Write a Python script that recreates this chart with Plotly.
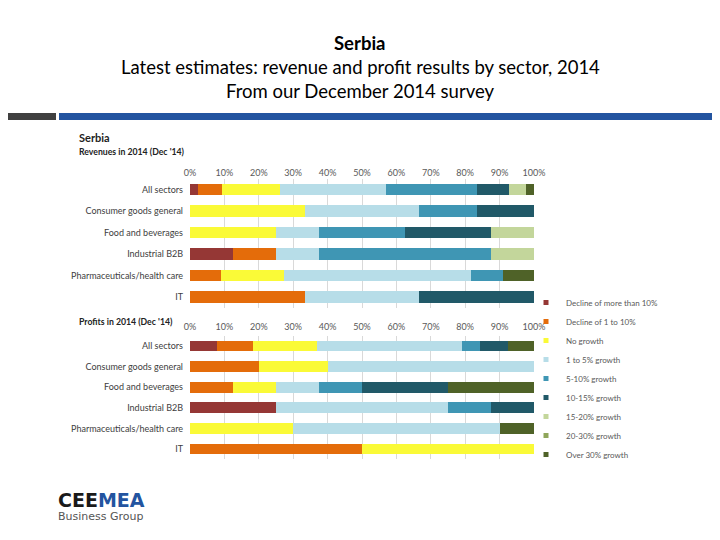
import plotly.graph_objects as go

# categories and data (% of respondents)
sectors = ["All sectors", "Consumer goods general", "Food and beverages",
           "Industrial B2B", "Pharmaceuticals/health care", "IT"]
growth_cats = ["Decline of more than 10%", "Decline of 1 to 10%", "No growth",
               "1 to 5% growth", "5-10% growth", "10-15% growth",
               "15-20% growth", "20-30% growth", "Over 30% growth"]
colors = ["#953735", "#E46C0A", "#FAFA37", "#B7DDE8", "#3F96B4",
          "#215968", "#C3D69B", "#8FA65A", "#4F6228"]

# revenue shares per growth category, one list per category (by sector)
rev_decl10 = [2.3, 0, 0, 12.5, 0, 0]
rev_decl1 = [7.0, 0, 0, 12.5, 9.1, 33.3]
rev_nogrow = [17.0, 33.3, 25.0, 0, 18.2, 0]
rev_1to5 = [30.8, 33.4, 12.5, 12.5, 54.5, 33.4]
rev_5to10 = [26.2, 16.6, 25.0, 50.0, 9.1, 0]
rev_10to15 = [9.4, 16.7, 25.0, 0, 0, 33.3]
rev_15to20 = [4.9, 0, 12.5, 12.5, 0, 0]
rev_20to30 = [0, 0, 0, 0, 0, 0]
rev_over30 = [2.4, 0, 0, 0, 9.1, 0]

prof_decl10 = [7.8, 0, 0, 25.0, 0, 0]
prof_decl1 = [10.5, 20.0, 12.5, 0, 0, 50.0]
prof_nogrow = [18.6, 20.0, 12.5, 0, 30.0, 50.0]
prof_1to5 = [42.2, 60.0, 12.5, 50.0, 60.0, 0]
prof_5to10 = [5.2, 0, 12.5, 12.5, 0, 0]
prof_10to15 = [8.0, 0, 25.0, 12.5, 0, 0]
prof_15to20 = [0, 0, 0, 0, 0, 0]
prof_20to30 = [0, 0, 0, 0, 0, 0]
prof_over30 = [7.7, 0, 25.0, 0, 10.0, 0]

revenue = [rev_decl10, rev_decl1, rev_nogrow, rev_1to5, rev_5to10,
           rev_10to15, rev_15to20, rev_20to30, rev_over30]
profit = [prof_decl10, prof_decl1, prof_nogrow, prof_1to5, prof_5to10,
          prof_10to15, prof_15to20, prof_20to30, prof_over30]

W, H = 720, 540
OFF = 8  # page body margin
FONT = "Lato, Noto Sans, sans-serif"
GREY = "#595959"

def px(p):  # screen pixel x -> paper x
    return (p - OFF) / W

def py(p):  # screen pixel y -> paper y
    return 1 - (p - OFF) / H

fig = go.Figure()

for i, name in enumerate(growth_cats):
    fig.add_trace(go.Bar(y=sectors, x=revenue[i], orientation="h", name=name,
                         marker=dict(color=colors[i], line=dict(width=0)),
                         legendgroup=name, showlegend=False,
                         xaxis="x", yaxis="y"))
    fig.add_trace(go.Bar(y=sectors, x=profit[i], orientation="h", name=name,
                         marker=dict(color=colors[i], line=dict(width=0)),
                         legendgroup=name, showlegend=False,
                         xaxis="x2", yaxis="y2"))
    # small square legend key
    fig.add_trace(go.Scatter(x=[None], y=[None], mode="markers", name=name,
                             marker=dict(color=colors[i], symbol="square", size=5),
                             legendgroup=name, showlegend=True,
                             xaxis="x", yaxis="y"))

xdom = [px(190), px(534)]
xax = dict(range=[0, 100], side="top", tickvals=list(range(0, 101, 10)),
           ticktext=[f"{v}%" for v in range(0, 101, 10)],
           showgrid=True, gridcolor="#D9D9D9", gridwidth=1, zeroline=False,
           tickfont=dict(size=9, color=GREY, family=FONT), ticks="",
           domain=xdom, fixedrange=True, automargin=False)
yax = dict(autorange="reversed", showgrid=False, ticks="", ticklabelstandoff=6,
           tickfont=dict(size=9, color="#404040", family=FONT),
           fixedrange=True, automargin=False)

fig.update_layout(
    width=W, height=H, margin=dict(l=0, r=0, t=0, b=0),
    paper_bgcolor="white", plot_bgcolor="white",
    barmode="stack", bargap=0.48,
    xaxis=dict(xax, anchor="y", ticklabelstandoff=0),
    yaxis=dict(yax, domain=[py(307.75), py(178.75)], anchor="x"),
    xaxis2=dict(xax, anchor="y2", ticklabelstandoff=3),
    yaxis2=dict(yax, domain=[py(459.3), py(335.7)], anchor="x2"),
    legend=dict(x=px(526), y=py(288), xanchor="left", yanchor="top",
                font=dict(size=8, color=GREY, family=FONT),
                itemwidth=30, tracegroupgap=0, bgcolor="rgba(0,0,0,0)"),
    font=dict(family=FONT),
)

def note(x, y, text, size, color="black", xanchor="center", family=FONT):
    fig.add_annotation(x=px(x), y=py(y), xref="paper", yref="paper",
                       showarrow=False, xanchor=xanchor, yanchor="middle",
                       text=text, font=dict(size=size, color=color, family=family))

# slide title
note(360, 43, "<b>Serbia</b>", 18.5)
note(360, 67, "Latest estimates: revenue and profit results by sector, 2014", 18.5)
note(360, 91, "From our December 2014 survey", 18.5)

# divider bars
fig.add_shape(type="rect", xref="paper", yref="paper", x0=px(0), x1=px(56),
              y0=py(120), y1=py(113), fillcolor="#404040", line_width=0)
fig.add_shape(type="rect", xref="paper", yref="paper", x0=px(59), x1=1,
              y0=py(120), y1=py(113), fillcolor="#2354A0", line_width=0)

# chart headings
note(77, 138, "<b>Serbia</b>", 11, "#222222", "left")
note(77, 152, "<b>Revenues in 2014 (Dec '14)</b>", 8.7, "#222222", "left")
note(77, 321, "<b>Profits in 2014 (Dec '14)</b>", 8.7, "#222222", "left")

# logo
note(56, 500, "<b>CEE<span style='color:#2354A0'>MEA</span></b>", 19,
     "#1a1a1a", "left", "DejaVu Sans")
note(56, 516, "Business Group", 11, "#555555", "left", "DejaVu Sans")

fig.write_html("out.html")
